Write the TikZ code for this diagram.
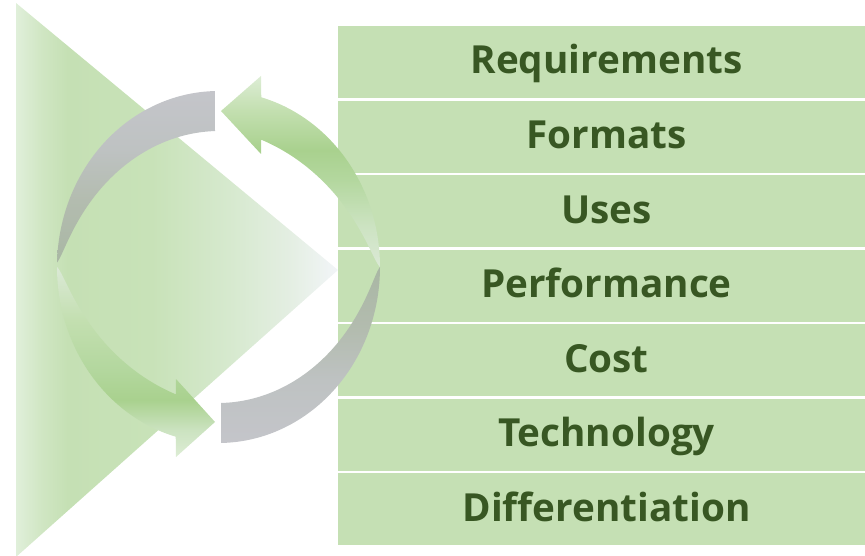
\documentclass[tikz,border=0pt]{standalone}
\usepackage{fontspec}
\setmainfont{Open Sans}
\definecolor{boxgreen}{HTML}{C5E0B4}
\definecolor{textgreen}{HTML}{385723}
% triangle colours
\definecolor{tA}{HTML}{E0EFDA}
\definecolor{tB}{HTML}{D0E6C3}
\definecolor{tC}{HTML}{C5E0B4}
\definecolor{tD}{HTML}{C8E2B8}
\definecolor{tE}{HTML}{D6E9CE}
\definecolor{tF}{HTML}{E3EEE1}
\definecolor{tG}{HTML}{F2F5F8}
% gray arrows
\definecolor{gA}{HTML}{A9B7A4}
\definecolor{gB}{HTML}{B3BCAF}
\definecolor{gC}{HTML}{BEC2C2}
\definecolor{gD}{HTML}{C4C5CA}
% green arrows
\definecolor{eA}{HTML}{DDEDD5}
\definecolor{eB}{HTML}{C3DFB0}
\definecolor{eC}{HTML}{A9D18E}
\definecolor{eD}{HTML}{B3D79E}
\definecolor{eE}{HTML}{CCE3C1}
\definecolor{eF}{HTML}{DBE9D6}
\pgfdeclarehorizontalshading{trishade}{100bp}{color(0bp)=(tA); color(25bp)=(tA); color(29bp)=(tB); color(33bp)=(tC); color(46bp)=(tD); color(58bp)=(tE); color(67bp)=(tF); color(75bp)=(tG); color(100bp)=(tG)}
\pgfdeclareverticalshading{grayup}{100bp}{color(0bp)=(gA); color(25bp)=(gA); color(43bp)=(gB); color(58bp)=(gC); color(75bp)=(gD); color(100bp)=(gD)}
\pgfdeclareverticalshading{graydown}{100bp}{color(0bp)=(gD); color(25bp)=(gD); color(43bp)=(gC); color(57bp)=(gB); color(75bp)=(gA); color(100bp)=(gA)}
\pgfdeclareverticalshading{greenup}{100bp}{color(0bp)=(eF); color(25bp)=(eF); color(36bp)=(eE); color(48bp)=(eD); color(55.6bp)=(eC); color(66bp)=(eB); color(75bp)=(eA); color(100bp)=(eA)}
\pgfdeclareverticalshading{greendown}{100bp}{color(0bp)=(eA); color(25bp)=(eA); color(32bp)=(eE); color(40bp)=(eC); color(48bp)=(eD); color(61bp)=(eB); color(75bp)=(eF); color(100bp)=(eF)}
\begin{document}
\begin{tikzpicture}[x=0.75pt,y=-0.75pt,
  declare function={
    sn(\t)=abs(sin(90*\t));
    wf(\t)=40*sqrt(sn(\t))*sqrt(sqrt(sn(\t)));
    ex(\a,\w)=218.5+(161.5-\w)*cos(\a);
    ey(\a,\w)=267-(176-\w)*sin(\a);
  },
  stripe/.style={fill=boxgreen, minimum width=402.75pt, minimum height=54pt,
    inner sep=0pt, text=textgreen, font=\fontsize{29}{34}\selectfont\bfseries,
    text height=21pt, text depth=3pt},
  arcplot/.style={samples=70, smooth}]
\useasboundingbox (0,0) rectangle (865,556);
% background triangle
\shade[shading=trishade] (16,3) -- (338,270) -- (16,557) -- cycle;
% stripes
\node[stripe] (req)  at (606.5,62)     {Requirements};
\node[stripe] (fmt)  at (606.5,136.55) {Formats};
\node[stripe] (uses) at (606.5,211.1)  {Uses};
\node[stripe] (perf) at (606.5,285.65) {Performance};
\node[stripe] (cost) at (606.5,360.2)  {Cost};
\node[stripe] (tech) at (606.5,434.75) {Technology};
\node[stripe] (diff) at (606.5,509.3)  {Differentiation};
% lower green arrow (left, pointing right)
\shade[shading=greendown] (176,457) -- (215,422) -- (176,379)
  -- plot[arcplot,domain=1:0] ({ex(180+\x*69.5,wf(\x))},{ey(180+\x*69.5,wf(\x))})
  -- plot[arcplot,domain=0:1] ({ex(180+\x*74.7,0)},{ey(180+\x*74.7,0)}) -- cycle;
% upper gray arc
\shade[shading=grayup]
  plot[arcplot,domain=0:1] ({ex(178.5-\x*87.26,0)},{ey(178.5-\x*87.26,0)})
  -- plot[arcplot,domain=1:0] ({ex(178.5-\x*86.85,wf(\x))},{ey(178.5-\x*86.85,wf(\x))}) -- cycle;
% upper green arrow (pointing left)
\shade[shading=greenup] (261,76) -- (221,111) -- (261,154)
  -- plot[arcplot,domain=1:0] ({ex(\x*69.5,wf(\x))},{ey(\x*69.5,wf(\x))})
  -- plot[arcplot,domain=0:1] ({ex(\x*74.7,0)},{ey(\x*74.7,0)}) -- cycle;
% lower gray arc
\shade[shading=graydown]
  plot[arcplot,domain=0:1] ({ex(-\x*89.1,0)},{ey(-\x*89.1,0)})
  -- plot[arcplot,domain=1:0] ({ex(-\x*88.8,wf(\x))},{ey(-\x*88.8,wf(\x))}) -- cycle;
\end{tikzpicture}
\end{document}
